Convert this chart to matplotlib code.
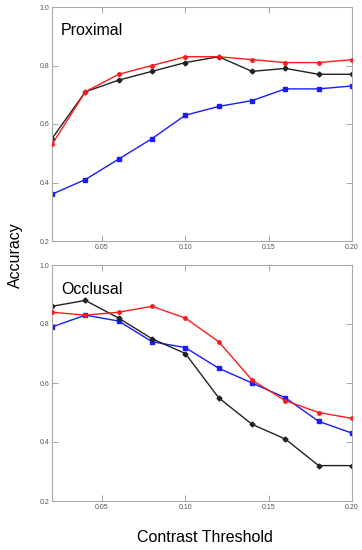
import numpy as np
import matplotlib
matplotlib.use('Agg')
import matplotlib.pyplot as plt

plt.rcParams['font.family'] = ['Liberation Sans', 'DejaVu Sans']

# contrast thresholds
threshold = [0.02, 0.04, 0.06, 0.08, 0.10, 0.12, 0.14, 0.16, 0.18, 0.20]

# Proximal panel
prox_red = [0.53, 0.71, 0.77, 0.80, 0.83, 0.83, 0.82, 0.81, 0.81, 0.82]
prox_black = [0.55, 0.71, 0.75, 0.78, 0.81, 0.83, 0.78, 0.79, 0.77, 0.77]
prox_blue = [0.36, 0.41, 0.48, 0.55, 0.63, 0.66, 0.68, 0.72, 0.72, 0.73]

# Occlusal panel
occ_red = [0.84, 0.83, 0.84, 0.86, 0.82, 0.74, 0.61, 0.54, 0.50, 0.48]
occ_black = [0.86, 0.88, 0.82, 0.75, 0.70, 0.55, 0.46, 0.41, 0.32, 0.32]
occ_blue = [0.79, 0.83, 0.81, 0.74, 0.72, 0.65, 0.60, 0.55, 0.47, 0.43]

xticks = [0.05, 0.10, 0.15, 0.20]
xtick_labels = ['0.05', '0.10', '0.15', '0.20']
yticks = [0.2, 0.4, 0.6, 0.8, 1.0]
ytick_labels = ['0.2', '0.4', '0.6', '0.8', '1.0']

fig = plt.figure(figsize=(3.62, 5.5), dpi=100)
ax1 = fig.add_axes([52/362, 1 - 241/550, 300/362, 234/550])
ax2 = fig.add_axes([52/362, 1 - 501/550, 300/362, 236/550])


def draw(ax, red, black, blue, title):
    ax.plot(threshold, red, color='#ff1a1a', lw=1.0, marker='o', ms=2.5, zorder=3)
    ax.plot(threshold, black, color='#222222', lw=1.0, marker='D', ms=2.5, zorder=2)
    ax.plot(threshold, blue, color='#1a1aff', lw=1.0, marker='s', ms=2.5, zorder=1)
    ax.set_xlim(0.02, 0.20)
    ax.set_ylim(0.2, 1.0)
    ax.set_xticks(xticks)
    ax.set_xticklabels(xtick_labels)
    ax.set_yticks(yticks)
    ax.set_yticklabels(ytick_labels)
    ax.tick_params(direction='in', top=True, right=True, length=4, width=0.6,
                   color='#999999', labelsize=5, labelcolor='#555555', pad=2)
    for s in ax.spines.values():
        s.set_color('#aaaaaa')
        s.set_linewidth(0.8)
    ax.text(0.03, 0.93, title, transform=ax.transAxes, fontsize=11.5,
            ha='left', va='top')


draw(ax1, prox_red, prox_black, prox_blue, 'Proximal')
draw(ax2, occ_red, occ_black, occ_blue, 'Occlusal')

fig.text(15/362, 1 - 255/550, 'Accuracy', rotation=90, fontsize=11.5,
         ha='center', va='center')
fig.text(205/362, 1 - 537/550, 'Contrast Threshold', fontsize=11.5,
         ha='center', va='center')

fig.savefig('out.png', dpi=100)
